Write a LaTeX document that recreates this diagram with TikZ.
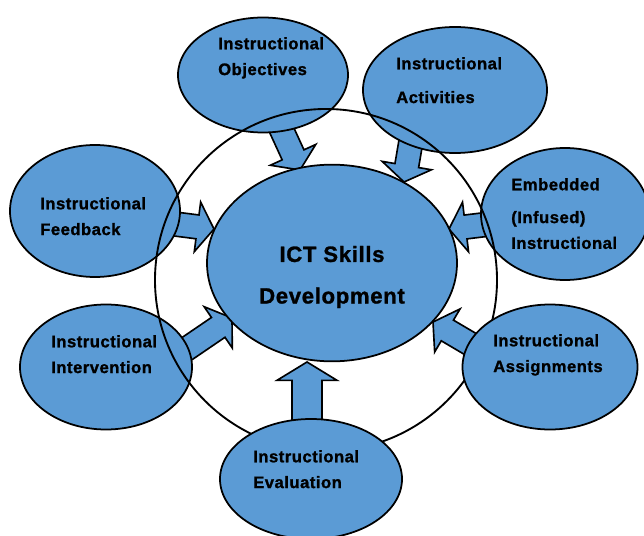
\documentclass[tikz,border=0pt]{standalone}
\usepackage{fontspec}
\usetikzlibrary{calc, shapes.geometric}
\newfontfamily\ictfont[LetterSpace=3, BoldFeatures={FakeBold=1.2}]{Liberation Sans}
\definecolor{ictblue}{RGB}{91,155,213}
\tikzset{
  ovalbox/.style  = {ellipse, draw=black, fill=ictblue, line width=1.5pt,
                     inner sep=0pt},
  lbltext/.style  = {anchor=north west, inner sep=0pt, align=left,
                     font=\ictfont\bfseries\fontsize{14.2}{22}\selectfont},
  hubtext/.style  = {anchor=center, inner sep=0pt, align=center,
                     font=\ictfont\bfseries\fontsize{18.9}{35.5}\selectfont},
  ringline/.style = {draw=black, line width=1.6pt},
  skillarr/.style = {draw=black, fill=ictblue, line width=1.4pt,
                     line join=miter},
}
% block arrow: tail, tip, half shaft, half head, head length
\newcommand{\blockarrow}[5]{%
  \coordinate (neck) at ($(#2)!#5!(#1)$);
  \draw[skillarr] ($(#1)!#3!90:(#2)$) -- ($(neck)!#3!90:(#2)$)
    -- ($(neck)!#4!90:(#2)$) -- (#2) -- ($(neck)!#4!-90:(#2)$)
    -- ($(neck)!#3!-90:(#2)$) -- ($(#1)!#3!-90:(#2)$) -- cycle;}

\begin{document}
\begin{tikzpicture}[x=0.03cm, y=-0.03cm]
  \useasboundingbox (0,0) rectangle (644,536);

  % arrow ends
  \coordinate (objT) at (278,122);  \coordinate (objH) at (300,170);
  \coordinate (actT) at (412,135);  \coordinate (actH) at (404,182);
  \coordinate (fbT)  at (175,224);  \coordinate (fbH)  at (214,229);
  \coordinate (embT) at (490,224);  \coordinate (embH) at (449,229);
  \coordinate (intT) at (185,350);  \coordinate (intH) at (232,318);
  \coordinate (asgT) at (472,345);  \coordinate (asgH) at (433,322);
  \coordinate (evlT) at (307,425);  \coordinate (evlH) at (307,362);

  \blockarrow{objT}{objH}{0.36cm}{0.75cm}{0.5cm}
  \blockarrow{actT}{actH}{0.36cm}{0.75cm}{0.5cm}
  \blockarrow{fbT}{fbH}{0.36cm}{0.75cm}{0.5cm}
  \blockarrow{embT}{embH}{0.36cm}{0.75cm}{0.5cm}
  \blockarrow{intT}{intH}{0.36cm}{0.75cm}{0.5cm}
  \blockarrow{asgT}{asgH}{0.36cm}{0.75cm}{0.5cm}
  \blockarrow{evlT}{evlH}{0.45cm}{0.9cm}{0.55cm}

  % outer ellipses
  \node[ovalbox, minimum width=5.1cm,  minimum height=3.96cm] (fb)  at (95,211)  {};
  \node[ovalbox, minimum width=5.16cm, minimum height=3.75cm] (int) at (106,367) {};
  \node[ovalbox, minimum width=5.1cm,  minimum height=3.45cm] (obj) at (263,75)  {};
  \node[ovalbox, minimum width=5.52cm, minimum height=3.78cm] (act) at (455,90)  {};
  \node[ovalbox, minimum width=5.04cm, minimum height=3.96cm] (emb) at (565,214) {};
  \node[ovalbox, minimum width=7.5cm,  minimum height=5.9cm]  (ict) at (332,263) {};

  \draw[ringline] (326,280) circle[radius=5.13cm];

  \node[ovalbox, minimum width=5.25cm, minimum height=3.75cm] (asg) at (550,367) {};
  \node[ovalbox, minimum width=5.46cm, minimum height=3.6cm]  (evl) at (311,479) {};

  % labels
  \node[hubtext] (ictL) at (332,277) {ICT Skills\\Development};
  \node[lbltext] (objL) at (218,37)  {Instructional\\Objectives};
  \node[lbltext] (actL) at (396,57)  {Instructional\\[0.24cm]Activities};
  \node[lbltext] (embL) at (511,178) {Embedded\\[0.21cm](Infused)\\Instructional};
  \node[lbltext] (fbL)  at (40,197)  {Instructional\\Feedback};
  \node[lbltext] (intL) at (51,335)  {Instructional\\Intervention};
  \node[lbltext] (asgL) at (493,334) {Instructional\\Assignments};
  \node[lbltext] (evlL) at (253,450) {Instructional\\Evaluation};
\end{tikzpicture}
\end{document}
